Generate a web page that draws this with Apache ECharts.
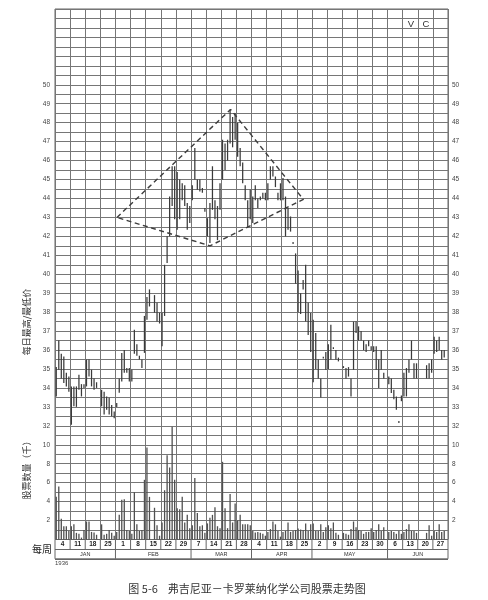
<!DOCTYPE html>
<html><head><meta charset="utf-8">
<script src="https://cdn.jsdelivr.net/npm/echarts@6/dist/echarts.min.js"></script>
<style>html,body{margin:0;padding:0;background:#fff}#c{width:488px;height:600px}</style>
</head><body><div id="c"></div><script>
// ---- data ----
const weekLabels = ['4','11','18','25','1','8','15','22','29','7','14','21','28','4','11','18','25','2','9','16','23','30','6','13','20','27'];
const monthNames = ['JAN','FEB','MAR','APR','MAY','JUN'];
const monthWeekCounts = [4,5,4,4,5,4];
const priceTicks = [32,33,34,35,36,37,38,39,40,41,42,43,44,45,46,47,48,49,50];
const volumeTicks = [2,4,6,8,10];
const DAYS_PER_WEEK = 6;
// daily lows (6 trading days per weekly column)
const lows = [
 33.55,34.96,34.5,34.26,34.08,33.8,
 32.05,33.03,33.0,33.9,33.55,34.0,
 34.08,34.6,34.08,33.9,34.0,null,
 33.03,32.6,32.85,32.6,32.5,32.4,
 33.0,33.75,34.34,34.8,34.8,34.34,
 34.34,35.8,35.7,35.5,35.05,35.85,
 37.6,38.3,null,37.97,37.5,37.4,
 36.2,37.8,40.6,42.0,43.6,42.9,
 42.35,42.9,43.9,43.6,42.35,42.7,
 43.9,45.0,44.46,44.37,44.3,43.3,
 42.0,41.65,43.4,42.9,41.8,43.4,
 45.0,45.5,46.0,46.9,46.7,47.1,
 46.2,45.7,44.8,43.9,42.5,42.9,
 42.7,43.9,43.5,43.9,44.0,43.9,
 43.9,45.0,45.16,44.6,43.9,43.9,
 43.9,42.0,42.35,42.25,41.6,39.5,
 38.0,37.9,39.2,37.5,36.8,35.9,
 34.3,35.0,34.5,33.5,35.55,34.96,
 35.0,35.5,36.05,35.5,35.4,null,
 35.05,34.5,34.6,33.55,34.96,36.9,
 36.5,36.5,36.0,35.9,36.2,36.0,
 35.9,34.96,34.0,34.96,34.5,null,
 34.2,33.73,33.4,32.85,32.15,33.3,
 33.55,33.55,34.8,35.5,34.5,34.5,
 null,null,null,34.5,34.5,34.8,
 35.8,35.9,36.0,35.5,35.6,null
];
// daily highs
const highs = [
 35.1,36.5,35.8,35.66,34.8,34.6,
 34.08,34.08,34.08,34.7,34.2,34.2,
 35.5,35.5,34.96,34.5,34.3,null,
 33.9,33.8,33.55,33.48,33.1,32.75,
 33.2,34.5,35.85,36.0,35.05,35.05,
 34.96,37.07,36.3,35.7,35.5,37.8,
 38.8,39.2,null,38.9,38.5,37.97,
 37.97,40.5,42.0,44.1,45.7,45.7,
 45.4,45.0,44.8,44.7,43.76,43.6,
 44.7,46.66,45.0,45.0,44.55,43.5,
 42.96,43.76,45.7,43.9,43.6,44.8,
 47.1,46.9,47.1,48.7,48.3,48.5,
 48.0,46.66,45.9,44.7,43.9,44.46,
 44.1,44.7,44.0,44.1,44.3,44.3,
 44.8,45.7,45.7,45.16,44.3,44.8,
 45.08,44.1,43.5,43.05,41.7,41.1,
 40.2,39.0,39.7,40.5,38.5,37.95,
 37.6,36.9,35.5,34.5,35.65,35.9,
 36.3,37.33,36.15,36.0,35.6,null,
 35.15,35.05,35.1,34.5,37.5,37.5,
 37.25,37.0,36.5,36.3,36.5,36.2,
 36.2,36.2,35.5,36.0,34.8,null,
 34.6,34.5,33.9,33.55,32.25,33.6,
 34.8,35.05,35.5,36.5,35.3,35.3,
 null,null,null,35.2,35.3,35.5,
 36.7,36.5,36.7,36.0,36.0,null
];
// daily volume, thousands of shares
const volumes = [
 4.5,5.6,2.2,1.4,1.4,0.9,
 1.4,1.6,0.7,0.6,0.2,1.0,
 1.9,1.9,0.8,0.75,0.5,null,
 1.6,0.5,0.6,1.0,0.7,0.4,
 0.8,2.6,4.2,4.25,1.0,0.9,
 0.6,5.0,1.6,0.9,1.0,6.3,
 9.7,4.5,null,3.35,1.5,0.4,
 1.8,5.2,8.9,7.6,11.9,6.3,
 3.3,3.2,4.5,1.8,2.6,1.2,
 1.5,6.5,2.8,1.4,1.5,0.7,
 1.7,2.3,2.6,3.4,1.4,1.2,
 8.2,3.3,1.2,4.8,1.8,3.8,
 2.0,2.6,1.6,1.6,1.6,1.5,
 0.9,0.75,0.8,0.7,0.6,0.4,
 0.8,1.1,1.9,1.6,0.9,0.3,
 0.8,0.9,1.8,0.8,0.9,1.0,
 1.15,1.05,1.0,1.7,0.9,1.6,
 1.7,0.9,0.9,1.6,0.8,1.3,
 1.5,1.2,1.8,0.7,0.5,null,
 0.7,0.6,0.5,1.1,1.9,1.3,
 1.0,0.9,0.6,0.8,0.8,1.2,
 0.8,1.0,1.6,0.9,1.3,null,
 0.8,0.9,0.8,0.6,0.9,0.6,
 0.8,1.1,1.6,0.9,0.9,0.7,
 null,null,null,0.7,1.5,0.4,
 0.9,0.8,1.6,0.8,0.9,null
];
// dashed diamond (trading-day index, price)
const diamondDays = [24.6, 69.7, 98.6, 61.5, 24.6];
const diamondPrices = [43.0, 48.7, 43.95, 41.5, 43.0];

// ---- build ----
const priceData = [];
lows.forEach((lo, i) => { if (lo != null && highs[i] != null) priceData.push([i + 0.5, lo, highs[i]]); });
const volData = [];
volumes.forEach((v, i) => { if (v != null) volData.push([i + 0.5, v]); });
const diamondData = diamondDays.map((d, i) => [d, diamondPrices[i]]);
const nDays = weekLabels.length * DAYS_PER_WEEK;
const monthStarts = [];
monthWeekCounts.reduce((acc, c) => { monthStarts.push(acc); return acc + c; }, 0);

const GRID = '#767676';
const tickFont = 'Liberation Sans';
const chart = echarts.init(document.getElementById('c'), null, {renderer: 'canvas'});
const lbl = (arr) => (v) => (arr.indexOf(Math.round(v * 100) / 100) >= 0 ? String(v) : '');

chart.setOption({
  animation: false,
  backgroundColor: '#ffffff',
  grid: [
    {left: 55, top: 9, width: 393, height: 530.5, show: true, borderColor: '#666', borderWidth: 1, outerBoundsMode: 'none'},
    {left: 55, top: 539.5, width: 393, height: 19.3, show: true, borderColor: '#666', borderWidth: 1, outerBoundsMode: 'none'}
  ],
  xAxis: [
    {gridIndex: 0, type: 'value', min: 0, max: nDays, interval: DAYS_PER_WEEK,
     axisLine: {show: false}, axisTick: {show: false}, axisLabel: {show: false},
     splitLine: {show: true, lineStyle: {color: GRID, width: 1}}},
    {gridIndex: 1, type: 'value', min: 0, max: weekLabels.length, interval: 1,
     axisLine: {show: false}, axisTick: {show: false}, axisLabel: {show: false}, splitLine: {show: false}}
  ],
  yAxis: [
    {gridIndex: 0, type: 'value', position: 'left', min: 26, max: 54, interval: 0.5,
     axisLine: {show: false}, axisTick: {show: false},
     axisLabel: {formatter: lbl(priceTicks), fontSize: 6.5, color: '#444', margin: 5, fontFamily: tickFont},
     splitLine: {show: true, lineStyle: {color: GRID, width: 1}}},
    {gridIndex: 0, type: 'value', position: 'right', min: 26, max: 54, interval: 0.5,
     axisLine: {show: false}, axisTick: {show: false},
     axisLabel: {formatter: lbl(priceTicks), fontSize: 6.5, color: '#444', margin: 4, fontFamily: tickFont},
     splitLine: {show: false}},
    {gridIndex: 0, type: 'value', position: 'left', min: 0, max: 56, interval: 1,
     axisLine: {show: false}, axisTick: {show: false},
     axisLabel: {formatter: lbl(volumeTicks), fontSize: 6.5, color: '#444', margin: 5, fontFamily: tickFont},
     splitLine: {show: false}},
    {gridIndex: 0, type: 'value', position: 'right', min: 0, max: 56, interval: 1,
     axisLine: {show: false}, axisTick: {show: false},
     axisLabel: {formatter: lbl(volumeTicks), fontSize: 6.5, color: '#444', margin: 4, fontFamily: tickFont},
     splitLine: {show: false}},
    {gridIndex: 1, type: 'value', min: 0, max: 2, interval: 1,
     axisLine: {show: false}, axisTick: {show: false}, axisLabel: {show: false},
     splitLine: {show: true, lineStyle: {color: '#666', width: 1}}}
  ],
  series: [
    {type: 'custom', name: 'hilo', xAxisIndex: 0, yAxisIndex: 0, data: priceData,
     encode: {x: 0, y: [1, 2]}, silent: true,
     renderItem: (params, api) => {
       const x = api.value(0);
       const a = api.coord([x, api.value(1)]);
       const b = api.coord([x, api.value(2)]);
       let y1 = a[1], y2 = b[1];
       if (Math.abs(y1 - y2) < 1.5) { y1 = (y1 + y2) / 2 + 0.9; y2 = y1 - 1.8; }
       return {type: 'line', shape: {x1: a[0], y1: y1, x2: a[0], y2: y2},
               style: {stroke: '#3a3a3a', lineWidth: 1.25}};
     }},
    {type: 'custom', name: 'volume', xAxisIndex: 0, yAxisIndex: 2, data: volData,
     encode: {x: 0, y: 1}, silent: true,
     renderItem: (params, api) => {
       const x = api.value(0);
       const a = api.coord([x, 0]);
       const b = api.coord([x, api.value(1)]);
       return {type: 'line', shape: {x1: a[0], y1: a[1], x2: b[0], y2: b[1]},
               style: {stroke: '#505050', lineWidth: 1.3}};
     }},
    {type: 'line', name: 'diamond', xAxisIndex: 0, yAxisIndex: 0, data: diamondData,
     symbol: 'none', silent: true,
     lineStyle: {color: '#3d3d3d', width: 1.4, type: [5, 3.5]}},
    {type: 'custom', name: 'weeks', xAxisIndex: 1, yAxisIndex: 4,
     data: weekLabels.map((t, i) => [i]), encode: {x: 0}, silent: true,
     renderItem: (params, api) => {
       const i = api.value(0);
       const top = api.coord([i, 2]), mid = api.coord([i, 1]);
       const c = api.coord([i + 0.5, 1.5]);
       const children = [];
       if (i > 0) children.push({type: 'line', shape: {x1: top[0], y1: top[1], x2: mid[0], y2: mid[1]},
                                 style: {stroke: '#666', lineWidth: 1}});
       children.push({type: 'text', x: c[0], y: c[1] + 0.3,
         style: {text: weekLabels[params.dataIndex], align: 'center', verticalAlign: 'middle',
                 font: 'bold 6.5px "Liberation Sans"', fill: '#222'}});
       return {type: 'group', children};
     }},
    {type: 'custom', name: 'months', xAxisIndex: 1, yAxisIndex: 4,
     data: monthStarts.map(s => [s]), encode: {x: 0}, silent: true,
     renderItem: (params, api) => {
       const s = api.value(0);
       const n = monthWeekCounts[params.dataIndex];
       const a = api.coord([s, 1]), b = api.coord([s, 0]);
       const c = api.coord([s + n / 2, 0.5]);
       const children = [];
       if (s > 0) children.push({type: 'line', shape: {x1: a[0], y1: a[1], x2: b[0], y2: b[1]},
                                 style: {stroke: '#666', lineWidth: 1}});
       children.push({type: 'text', x: c[0], y: c[1] + 0.3,
         style: {text: monthNames[params.dataIndex], align: 'center', verticalAlign: 'middle',
                 font: '5.5px "Liberation Sans"', fill: '#333'}});
       return {type: 'group', children};
     }}
  ],
  graphic: [
    {type: 'text', x: 27, y: 322, rotation: Math.PI / 2,
     style: {text: '每日最高/最低价', align: 'center', verticalAlign: 'middle', font: '9px "Noto Sans CJK SC"', fill: '#333'}},
    {type: 'text', x: 27, y: 468, rotation: Math.PI / 2,
     style: {text: '股票数量（千）', align: 'center', verticalAlign: 'middle', font: '9px "Noto Sans CJK SC"', fill: '#333'}},
    {type: 'text', x: 42, y: 549,
     style: {text: '每周', align: 'center', verticalAlign: 'middle', font: '10px "Noto Sans CJK SC"', fill: '#222'}},
    {type: 'text', x: 55, y: 563,
     style: {text: '1936', align: 'left', verticalAlign: 'middle', font: '6px "Liberation Sans"', fill: '#444'}},
    {type: 'text', x: 411, y: 24,
     style: {text: 'V', align: 'center', verticalAlign: 'middle', font: '9.5px "Liberation Sans"', fill: '#333'}},
    {type: 'text', x: 426, y: 24,
     style: {text: 'C', align: 'center', verticalAlign: 'middle', font: '9.5px "Liberation Sans"', fill: '#333'}},
    {type: 'text', x: 247, y: 589,
     style: {text: '图 5-6    弗吉尼亚－卡罗莱纳化学公司股票走势图', align: 'center', verticalAlign: 'middle', font: '11px "Noto Sans CJK SC"', fill: '#333'}}
  ]
});
</script></body></html>
